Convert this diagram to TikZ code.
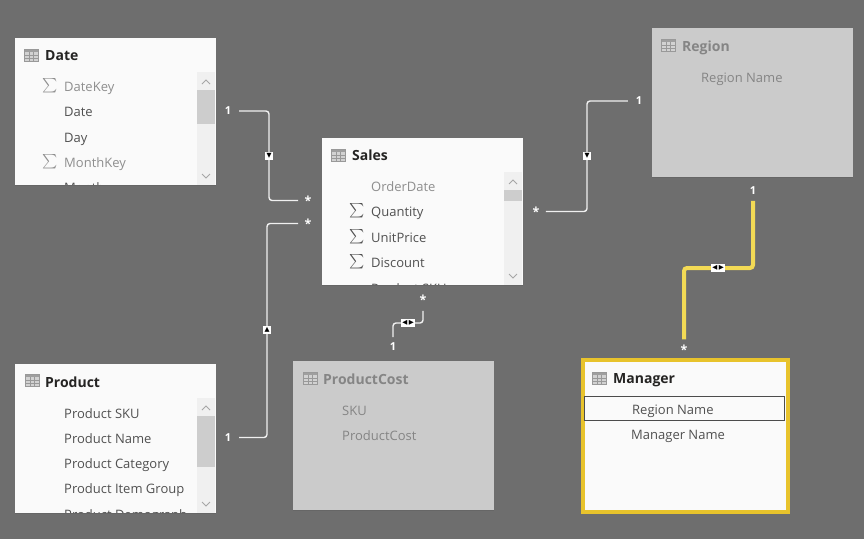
\documentclass[tikz,border=0pt]{standalone}
\usepackage{fontspec}
\usepackage{amsmath}
\setmainfont{Open Sans}
\newfontfamily\markfont{DejaVu Sans}
\usetikzlibrary{arrows.meta,positioning,calc}
\definecolor{canvas}{HTML}{6E6E6E}
\definecolor{cardwhite}{HTML}{FAFAFA}
\definecolor{cardhidden}{HTML}{CBCBCB}
\definecolor{titledark}{HTML}{252423}
\definecolor{fieldtext}{HTML}{505050}
\definecolor{fieldpale}{HTML}{8E8E8E}
\definecolor{hiddentext}{HTML}{858585}
\definecolor{relwhite}{HTML}{F0F0F0}
\definecolor{relyellow}{HTML}{F3DA55}
\definecolor{framegold}{HTML}{E8C32C}
\definecolor{scrolltrack}{HTML}{F0F0F0}
\definecolor{scrollthumb}{HTML}{CDCDCD}
\tikzset{
	tablecard/.style={anchor=north west, inner sep=0pt, outer sep=0pt, fill=cardwhite, minimum width=201pt},
	cardtitle/.style={anchor=base west, inner sep=0pt, font=\fontsize{14}{14}\selectfont\bfseries, text=titledark},
	fieldname/.style={anchor=base west, inner sep=0pt, font=\fontsize{13}{13}\selectfont, text=fieldtext},
	sumsign/.style={inner sep=0pt, font=\fontsize{15}{15}\selectfont, text=fieldtext},
	cardlabel/.style={inner sep=1pt, outer xsep=7pt, outer ysep=5pt, font=\fontsize{11}{11}\selectfont\bfseries, text=white},
	manylabel/.style={cardlabel, outer xsep=5.5pt, outer ysep=5pt, font=\fontsize{12.5}{12.5}\selectfont\bfseries},
	crossfilter/.style={inner sep=1.2pt, fill=white, font=\markfont\fontsize{6.5}{6.5}\selectfont, text=black},
	relline/.style={draw=relwhite, line width=1.4pt, rounded corners=3pt},
	activeline/.style={draw=relyellow, line width=4pt, rounded corners=3pt},
	chevron/.style={draw=gray!70, line width=0.9pt},
	cardedge/.style={draw=black!60, line width=0.8pt},
	tableicon/.pic={
		\fill[#1!35] (0,0) rectangle (14,12);
		\fill[#1!75] (0,0) rectangle (14,3);
		\draw[#1!80, line width=0.5pt] (0,0) rectangle (14,12);
		\foreach \gx in {4.7,9.3}{\draw[#1!80, line width=0.4pt] (\gx,3) -- (\gx,12);}
		\foreach \gy in {6,9}{\draw[#1!80, line width=0.4pt] (0,\gy) -- (14,\gy);}
	},
}

\begin{document}
\begin{tikzpicture}[x=1pt, y=-1pt, >=Stealth]
	\useasboundingbox (0,0) rectangle (864,539);
	\fill[canvas] (0,0) rectangle (864,539);

	% --- Date ---
	\node[tablecard, minimum height=147pt] (dateCard) at (15,38) {};
	\begin{scope}
		\clip (dateCard.north west) rectangle (dateCard.south east);
		\foreach \fname/\ybase/\fcol [count=\i] in {DateKey/91/fieldpale, Date/116/fieldtext, Day/142/fieldtext, MonthKey/167/fieldpale, Month/192/fieldtext}{
				\node[fieldname, text=\fcol] (dateField\i) at (64,\ybase) {\fname};
			}
	\end{scope}
	\pic at (24,49) {tableicon=gray};
	\node[cardtitle] (dateTitle) at (45,60) {Date};
	\node[sumsign, text=fieldpale] (dateSumA) at (50,86) {$\sum$};
	\node[sumsign, text=fieldpale] (dateSumB) at (50,162) {$\sum$};

	% --- Sales ---
	\node[tablecard, minimum height=147pt] (salesCard) at (322,138) {};
	\begin{scope}
		\clip (salesCard.north west) rectangle (salesCard.south east);
		\foreach \fname/\ybase/\fcol [count=\i] in {OrderDate/191/fieldpale, Quantity/216/fieldtext, UnitPrice/242/fieldtext, Discount/267/fieldtext, Product SKU/293/fieldtext}{
				\node[fieldname, text=\fcol] (salesField\i) at (371,\ybase) {\fname};
			}
	\end{scope}
	\pic at (331,149) {tableicon=gray};
	\node[cardtitle] (salesTitle) at (352,160) {Sales};
	\foreach \ycen [count=\i] in {211,237,262}{
			\node[sumsign] (salesSum\i) at (357,\ycen) {$\sum$};
		}

	% --- Product ---
	\node[tablecard, minimum height=149pt] (productCard) at (15,364) {};
	\begin{scope}
		\clip (productCard.north west) rectangle (productCard.south east);
		\foreach \fname/\ybase [count=\i] in {Product SKU/418, Product Name/443, Product Category/468, Product Item Group/493, Product Demograph/519}{
				\node[fieldname] (productField\i) at (64,\ybase) {\fname};
			}
	\end{scope}
	\pic at (25,374) {tableicon=gray};
	\node[cardtitle] (productTitle) at (45,387) {Product};

	% Barras de desplazamiento
	\foreach \x/\top/\bot/\thumbtop/\thumbbot in {197/72/185/90/124, 504/172/285/190/201, 197/398/513/416/467}{
			\fill[scrolltrack] (\x,\top) rectangle (\x+18,\bot);
			\fill[scrollthumb] (\x,\thumbtop) rectangle (\x+18,\thumbbot);
			\draw[chevron] (\x+5,\top+12) -- (\x+9,\top+8) -- (\x+13,\top+12);
			\draw[chevron] (\x+5,\bot-11) -- (\x+9,\bot-7) -- (\x+13,\bot-11);
		}

	% --- Region ---
	\node[tablecard, fill=cardhidden, minimum height=149pt] (regionCard) at (652,28) {};
	\pic at (661,39) {tableicon=gray};
	\node[cardtitle, text=hiddentext] (regionTitle) at (682,51) {Region};
	\node[fieldname, text=hiddentext] (regionField) at (701,82) {Region Name};

	% --- ProductCost ---
	\node[tablecard, fill=cardhidden, minimum height=149pt] (costCard) at (293,361) {};
	\pic at (303,372) {tableicon=gray};
	\node[cardtitle, text=hiddentext] (costTitle) at (323,384) {ProductCost};
	\node[fieldname, text=hiddentext] (costFieldA) at (342,415) {SKU};
	\node[fieldname, text=hiddentext] (costFieldB) at (342,440) {ProductCost};

	% Borde inferior de las tablas
	\foreach \card in {dateCard, salesCard, productCard, regionCard, costCard}{
			\draw[cardedge] (\card.south west) -- (\card.south east);
		}

	% --- Manager ---
	\node[tablecard, draw=framegold, line width=4pt, minimum width=205pt, minimum height=152pt] (managerCard) at (582.5,360) {};
	\node[anchor=north west, draw=black!70, fill=cardwhite, line width=0.7pt, inner sep=0pt, outer sep=0pt, minimum width=200pt, minimum height=24pt] (managerKey) at (584,396) {};
	\pic at (592,372) {tableicon=gray};
	\node[cardtitle] (managerTitle) at (613,383) {Manager};
	\node[fieldname] (managerFieldA) at (632,414) {Region Name};
	\node[fieldname] (managerFieldB) at (631,439) {Manager Name};

	% Cardinalidades
	\node[cardlabel] (oneDate) at (228,111) {1};
	\node[cardlabel] (oneProduct) at (228,437.5) {1};
	\node[cardlabel] (oneRegion) at (639,101) {1};
	\node[cardlabel] (oneCost) at (393,347) {1};
	\node[cardlabel] (oneManager) at (753,191) {1};
	\node[manylabel] (manyDate) at (308,200.5) {\raisebox{-.3em}{*}};
	\node[manylabel] (manyProduct) at (308,223.5) {\raisebox{-.3em}{*}};
	\node[manylabel] (manyRegion) at (536,211.5) {\raisebox{-.3em}{*}};
	\node[manylabel] (manyCost) at (423,300) {\raisebox{-.3em}{*}};
	\node[manylabel] (manyManager) at (684,350) {\raisebox{-.3em}{*}};

	% Marcadores de filtro
	\coordinate (bendDate) at (269,156);
	\coordinate (bendProduct) at (267,330);
	\coordinate (bendRegion) at (587,156);
	\coordinate (bendCost) at (408,323);
	\coordinate (bendManager) at (718,268);

	% Relaciones
	\draw[relline] (oneDate.east) -| (bendDate) |- (manyDate.west);
	\draw[relline] (oneProduct.east) -| (bendProduct) |- (manyProduct.west);
	\draw[relline] (manyRegion.east) -| (bendRegion) |- (oneRegion.west);
	\draw[relline] (manyCost.south) |- (bendCost) -| (oneCost.north);
	\draw[activeline] (oneManager.south) |- (bendManager) -| (manyManager.north);

	\node[crossfilter] (filterDate) at (bendDate) {▼};
	\node[crossfilter] (filterProduct) at (bendProduct) {▲};
	\node[crossfilter] (filterRegion) at (bendRegion) {▼};
	\node[crossfilter] (filterCost) at (bendCost) {◀\kern1.5pt▶};
	\node[crossfilter] (filterManager) at (bendManager) {◀\kern1.5pt▶};
\end{tikzpicture}
\end{document}
